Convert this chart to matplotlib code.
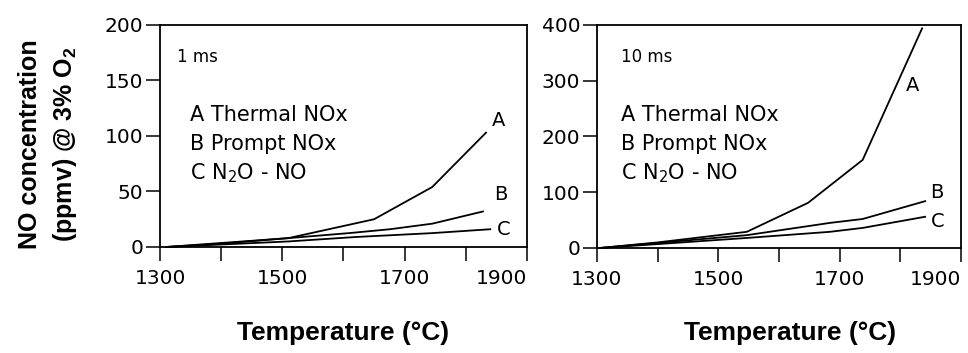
import matplotlib
matplotlib.use("Agg")
import matplotlib.pyplot as plt
from matplotlib.ticker import MultipleLocator, FixedLocator

plt.rcParams.update({'font.family': 'DejaVu Sans', 'font.size': 14,
                     'mathtext.fontset': 'custom',
                     'mathtext.rm': 'DejaVu Sans', 'mathtext.bf': 'Liberation Sans:bold'})

# 1 ms panel
t1_a = [1310, 1400, 1510, 1650, 1745, 1833]
no1_a = [0, 3, 8, 25, 54, 103]
t1_b = [1310, 1510, 1611, 1676, 1745, 1828]
no1_b = [0, 8, 12.6, 16, 21, 32]
t1_c = [1310, 1510, 1620, 1745, 1840]
no1_c = [0, 5, 9, 12.5, 16]

# 10 ms panel
t10_a = [1305, 1400, 1547, 1648, 1738, 1836]
no10_a = [0, 10, 29, 81, 158, 394]
t10_b = [1305, 1400, 1547, 1684, 1738, 1841]
no10_b = [0, 9, 23, 45, 52, 84]
t10_c = [1305, 1400, 1547, 1684, 1738, 1841]
no10_c = [0, 7, 18, 29, 36, 56]

legend_lines = ['A Thermal NOx', 'B Prompt NOx', 'C N$_2$O - NO']

fig = plt.figure(figsize=(9.68, 3.53), dpi=100)
ax1 = fig.add_axes([0.1653, 0.3003, 0.3791, 0.6289])
ax2 = fig.add_axes([0.6167, 0.2975, 0.3760, 0.6317])


def style(ax, ymax, ystep):
    ax.set_xlim(1300, 1900)
    ax.set_ylim(0, ymax)
    ax.xaxis.set_major_locator(FixedLocator([1300, 1500, 1700, 1900]))
    ax.xaxis.set_minor_locator(MultipleLocator(100))
    ax.yaxis.set_major_locator(MultipleLocator(ystep))
    ax.tick_params(which='both', direction='out', length=10, width=1.1,
                   labelsize=14.5, top=False, right=False)
    ax.tick_params(axis='x', pad=6)
    ax.tick_params(axis='y', pad=2)
    for s in ax.spines.values():
        s.set_linewidth(1.3)
    ax.set_xlabel('Temperature (°C)', fontfamily='Liberation Sans',
                  fontweight='bold', fontsize=19, va='center')


style(ax1, 200, 50)
style(ax2, 400, 100)
ax1.xaxis.set_label_coords(0.5, -0.387)
ax2.xaxis.set_label_coords(0.53, -0.38)
fig.canvas.draw()
for ax in (ax1, ax2):
    last = ax.get_xticklabels()[-1]
    last.set_horizontalalignment('right')
    last.set_x(1918)

for ax, series in [(ax1, [(t1_a, no1_a), (t1_b, no1_b), (t1_c, no1_c)]),
                   (ax2, [(t10_a, no10_a), (t10_b, no10_b), (t10_c, no10_c)])]:
    for t, v in series:
        ax.plot(t, v, color='black', lw=1.3, clip_on=False)

# curve letters
ax1.text(1854, 114, 'A', ha='center', va='center', fontsize=14)
ax1.text(1857, 47, 'B', ha='center', va='center', fontsize=14)
ax1.text(1862, 16, 'C', ha='center', va='center', fontsize=14)
ax2.text(1821, 292, 'A', ha='center', va='center', fontsize=14)
ax2.text(1860, 100, 'B', ha='center', va='center', fontsize=14)
ax2.text(1862, 47, 'C', ha='center', va='center', fontsize=14)

ax1.text(0.046, 0.856, '1 ms', transform=ax1.transAxes, va='center', fontsize=12)
ax2.text(0.066, 0.856, '10 ms', transform=ax2.transAxes, va='center', fontsize=12)

for ax, x0, ys in [(ax1, 0.082, [0.595, 0.464, 0.333]),
                   (ax2, 0.066, [0.596, 0.466, 0.336])]:
    for txt, y in zip(legend_lines, ys):
        ax.text(x0, y, txt, transform=ax.transAxes, va='center', fontsize=15)

fig.text(0.031, 0.592, 'NO concentration', rotation=90, ha='center', va='center',
         fontfamily='Liberation Sans', fontweight='bold', fontsize=18)
fig.text(0.067, 0.592, r'(ppmv) @ 3% O$_\mathbf{2}$', rotation=90, ha='center',
         va='center', fontfamily='Liberation Sans', fontweight='bold', fontsize=18)

fig.savefig('out.png', dpi=100)
